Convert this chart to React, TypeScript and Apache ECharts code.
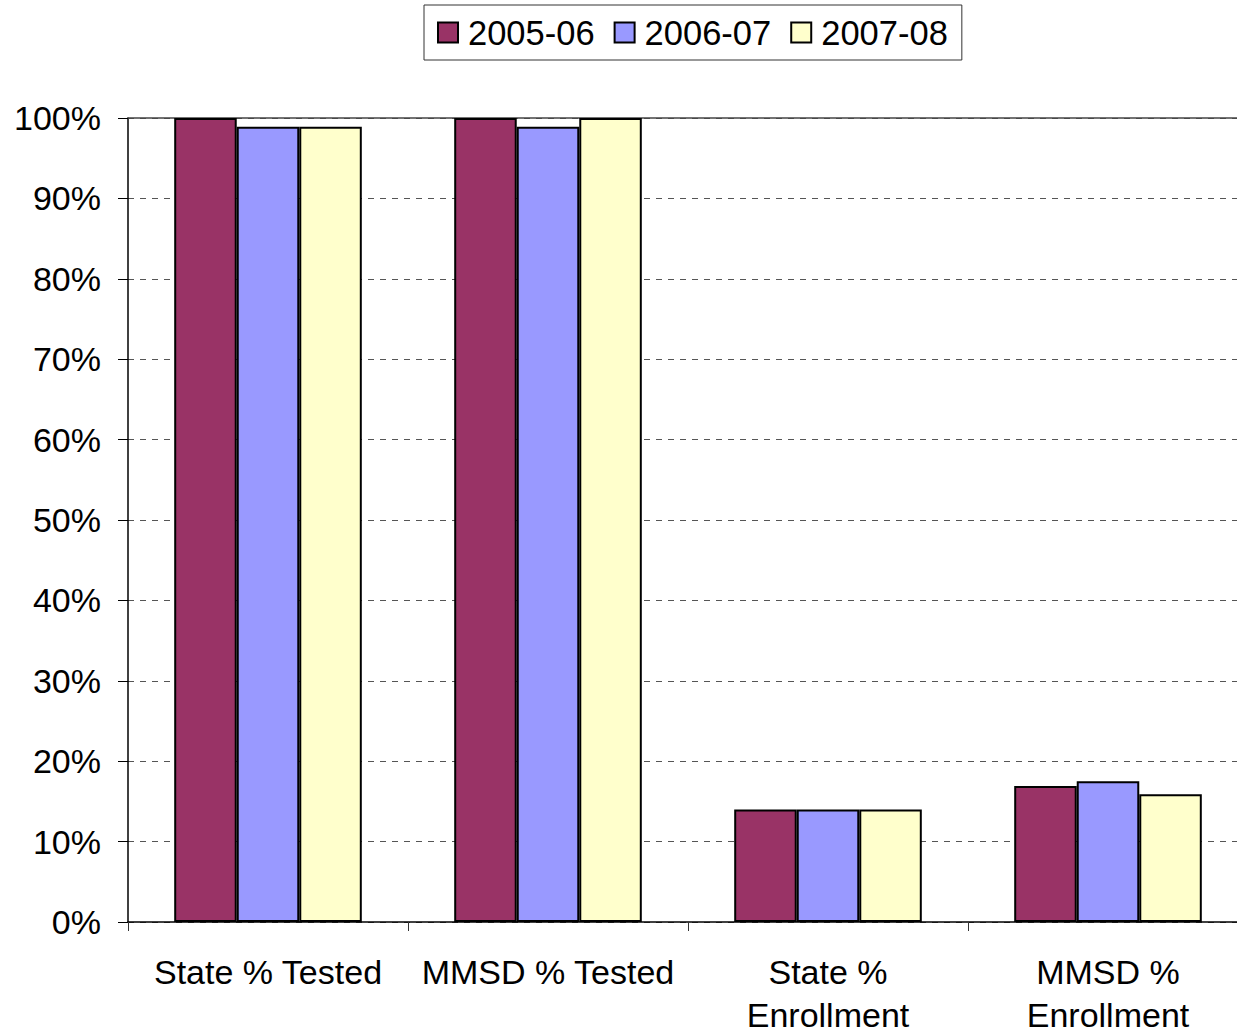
import React, { useEffect, useRef } from "react";
import * as echarts from "echarts";

const categories = ["State % Tested", "MMSD % Tested", "State %\nEnrollment", "MMSD %\nEnrollment"];
const seriesNames = ["2005-06", "2006-07", "2007-08"];
const values2005 = [100, 100, 14, 16.9];
const values2006 = [98.9, 98.9, 14, 17.5];
const values2007 = [98.9, 100, 14, 15.9];
const colors = ["#993366", "#9999FF", "#FFFFCC"];

const FONT = "'Liberation Sans', Arial, sans-serif";

export default function App() {
  const ref = useRef<HTMLDivElement>(null);
  useEffect(() => {
    if (!ref.current) return;
    const chart = echarts.init(ref.current, undefined, { renderer: "svg" });
    const data = [values2005, values2006, values2007];
    chart.setOption({
      animation: false,
      backgroundColor: "#ffffff",
      textStyle: { fontFamily: FONT },
      legend: {
        left: 424,
        top: 5,
        padding: [10, 14, 10, 13],
        itemGap: 19,
        itemWidth: 20,
        itemHeight: 20,
        borderColor: "#333",
        borderWidth: 1,
        icon: "rect",
        textStyle: { fontSize: 34.5, color: "#000", fontFamily: FONT, padding: [0, 0, 0, 5] },
        data: seriesNames.map((n, i) => ({
          name: n,
          itemStyle: { color: colors[i], borderColor: "#000", borderWidth: 2 },
        })),
      },
      grid: {
        left: 128,
        top: 118,
        width: 1120,
        height: 804,
        containLabel: false,
        outerBoundsMode: "none",
      },
      xAxis: [
        {
          type: "category",
          data: categories,
          axisLine: { show: true, lineStyle: { color: "#000", width: 1.5 } },
          axisTick: { show: true, length: 9, alignWithLabel: false, lineStyle: { color: "#333" } },
          axisLabel: {
            interval: 0,
            fontSize: 34,
            lineHeight: 43,
            color: "#000",
            margin: 28,
            fontFamily: FONT,
          },
          splitLine: { show: false },
        },
        {
          type: "category",
          position: "top",
          data: categories,
          axisLine: { show: true, lineStyle: { color: "#444", width: 1.5 } },
          axisTick: { show: false },
          axisLabel: { show: false },
        },
      ],
      yAxis: {
        type: "value",
        min: 0,
        max: 100,
        interval: 10,
        axisLine: { show: true, lineStyle: { color: "#000", width: 1.5 } },
        axisTick: { show: true, length: 10, lineStyle: { color: "#000" } },
        axisLabel: {
          formatter: "{value}%",
          fontSize: 34,
          color: "#000",
          margin: 27,
          fontFamily: FONT,
        },
        splitLine: {
          show: true,
          lineStyle: { color: "#555", type: [6, 6], width: 1 },
        },
      },
      series: seriesNames.map((n, i) => ({
        name: n,
        type: "bar",
        data: data[i],
        barGap: "0%",
        barCategoryGap: "33%",
        itemStyle: { color: colors[i], borderColor: "#000", borderWidth: 2 },
      })),
    });
    return () => chart.dispose();
  }, []);
  return (
    <div
      ref={ref}
      style={{ position: "fixed", left: 0, top: 0, width: 1237, height: 1032 }}
    />
  );
}
